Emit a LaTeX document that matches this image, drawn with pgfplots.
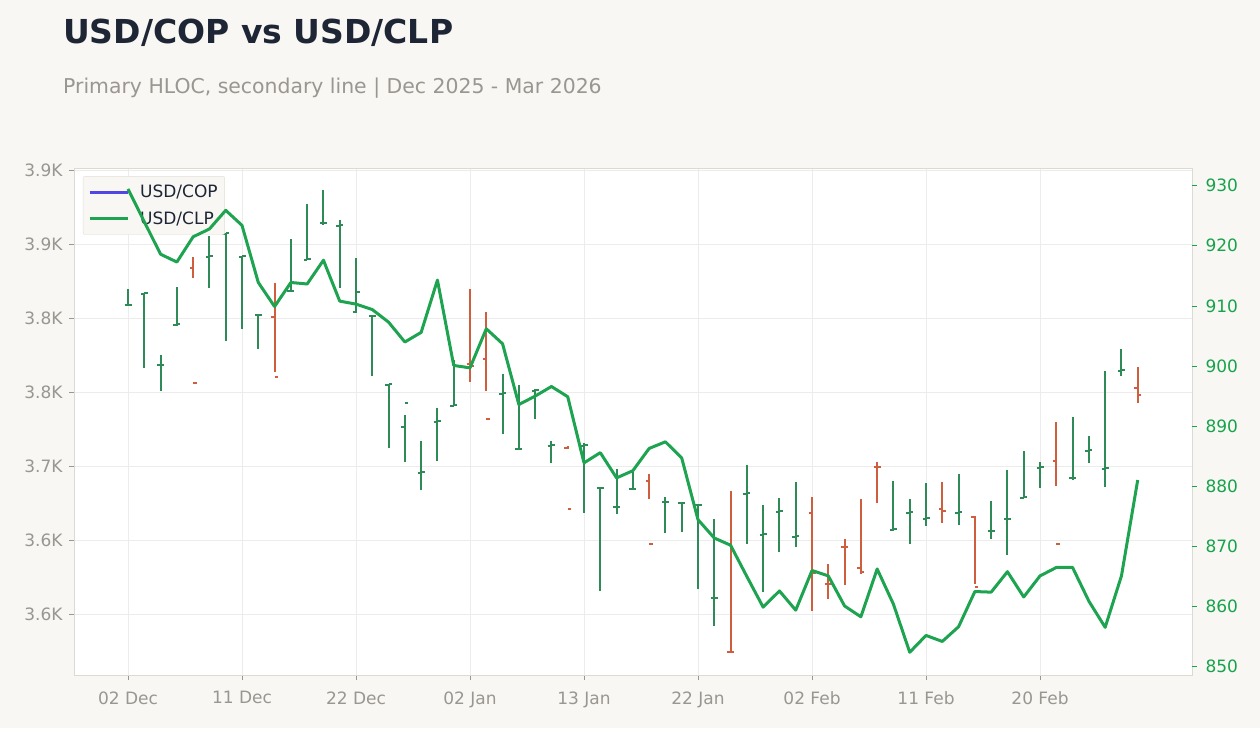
\documentclass[border=0pt]{standalone}
\usepackage{pgfplots}
\pgfplotsset{compat=1.18}
\usepackage{pgfplotstable}
\usepackage{fontspec}
\setmainfont{DejaVu Sans}

\definecolor{bgcol}{RGB}{248,247,244}
\definecolor{bordercol}{RGB}{221,217,211}
\definecolor{gridcol}{RGB}{236,236,236}
\definecolor{labelcol}{RGB}{154,150,144}
\definecolor{titlecol}{RGB}{30,38,53}
\definecolor{axgreen}{RGB}{22,163,74}
\definecolor{lineG}{RGB}{30,163,80}
\definecolor{barG}{RGB}{46,139,87}
\definecolor{barR}{RGB}{206,94,62}
\definecolor{legblue}{RGB}{79,70,229}
\definecolor{legbg}{RGB}{248,247,244}
\definecolor{legborder}{RGB}{226,222,216}

\pgfdeclareplotmark{openL}{\pgfpathmoveto{\pgfqpoint{-3.5pt}{0pt}}\pgfpathlineto{\pgfqpoint{0pt}{0pt}}\pgfusepathqstroke}
\pgfdeclareplotmark{closeR}{\pgfpathmoveto{\pgfqpoint{0pt}{0pt}}\pgfpathlineto{\pgfqpoint{3.5pt}{0pt}}\pgfusepathqstroke}

% USD/COP HLOC, rising bars
\pgfplotstableread{
x H L O C
0 3819.6 3809.0 3809.0 3809.3
1 3816.9 3766.6 3816.4 3816.8
2 3775.0 3751.1 3768.2 3768.6
3 3820.9 3795.0 3795.5 3795.9
5 3855.8 3820.7 3841.4 3841.8
6 3857.4 3784.9 3857.0 3857.3
7 3842.1 3793.0 3841.4 3841.8
8 3802.7 3779.5 3802.2 3802.5
10 3853.6 3818.0 3818.2 3818.6
11 3877.2 3839.4 3839.5 3839.8
12 3886.7 3863.0 3864.2 3864.6
13 3866.4 3820.7 3862.4 3862.8
14 3840.7 3803.8 3804.1 3818.0
15 3801.8 3761.2 3801.5 3801.8
16 3755.4 3712.2 3755.0 3755.3
17 3734.7 3703.1 3726.8 3743.0
18 3717.1 3683.8 3695.7 3696.1
19 3739.2 3703.8 3729.9 3730.3
20 3771.8 3740.7 3740.8 3741.1
23 3762.2 3722.0 3748.9 3749.3
24 3754.7 3711.7 3711.7 3712.0
25 3752.2 3732.2 3750.9 3751.3
26 3716.9 3702.4 3713.7 3714.1
28 3715.9 3668.6 3713.7 3714.1
29 3685.5 3615.9 3685.1 3685.4
30 3698.0 3668.0 3672.3 3672.7
31 3696.8 3684.2 3684.5 3684.9
33 3679.3 3655.1 3675.7 3676.1
34 3675.7 3655.8 3675.2 3675.5
35 3674.1 3616.9 3673.9 3674.1
36 3664.2 3592.1 3610.8 3611.2
38 3700.9 3647.7 3681.3 3681.7
39 3673.9 3615.3 3653.6 3654.0
40 3678.6 3642.3 3669.1 3669.5
41 3689.2 3645.7 3652.2 3652.6
47 3690.1 3656.5 3657.1 3657.5
48 3677.9 3647.7 3668.4 3668.8
49 3688.7 3659.7 3664.4 3664.8
51 3694.8 3660.3 3668.4 3668.8
53 3676.6 3650.9 3656.1 3656.5
54 3697.5 3640.1 3664.2 3664.6
55 3710.3 3678.4 3678.6 3679.0
56 3702.7 3685.5 3698.9 3699.3
58 3733.1 3690.9 3691.9 3692.3
59 3720.3 3702.4 3710.3 3710.7
60 3764.2 3686.2 3698.2 3698.6
61 3779.3 3761.2 3764.4 3764.8
}\upbars

% USD/COP HLOC, falling bars
\pgfplotstableread{
x H L O C
4 3841.4 3827.2 3834.2 3756.3
9 3823.9 3763.9 3801.1 3760.5
21 3819.8 3757.2 3769.1 3767.8
22 3804.1 3751.1 3772.7 3732.2
27 3713.4 3711.7 3712.7 3671.4
32 3694.8 3678.1 3690.3 3647.7
37 3683.3 3574.3 3574.8 3574.3
42 3679.3 3602.4 3668.6 3628.1
43 3634.0 3610.3 3620.7 3620.3
44 3650.9 3619.8 3645.7 3645.3
45 3677.9 3627.4 3631.1 3628.4
46 3702.7 3675.4 3699.7 3699.3
50 3689.4 3661.7 3671.1 3669.8
52 3666.4 3620.5 3665.5 3618.6
57 3729.9 3686.9 3703.6 3647.7
62 3767.1 3743.0 3753.1 3748.2
}\downbars

% USD/CLP close
\pgfplotstableread{
x y
0 929.45
1 924.0
2 918.6
3 917.3
4 921.5
5 922.8
6 925.9
7 923.4
8 913.9
9 909.9
10 913.9
11 913.65
12 917.6
13 910.8
14 910.3
15 909.4
16 907.3
17 904.0
18 905.6
19 914.3
20 900.1
21 899.7
22 906.2
23 903.7
24 893.6
25 895.0
26 896.6
27 894.9
28 883.9
29 885.6
30 881.4
31 882.6
32 886.3
33 887.4
34 884.7
35 874.45
36 871.4
37 870.2
38 865.0
39 859.9
40 862.6
41 859.4
42 866.0
43 865.1
44 860.1
45 858.3
46 866.25
47 860.4
48 852.4
49 855.2
50 854.2
51 856.65
52 862.5
53 862.4
54 865.8
55 861.6
56 865.1
57 866.5
58 866.5
59 860.9
60 856.55
61 865.1
62 881.05
}\clp

\begin{document}
\begin{tikzpicture}[x=1pt,y=1pt]
\useasboundingbox (0,0) rectangle (1260,728);
\fill[bgcol] (0,0) rectangle (1260,728);
\node[anchor=base west, inner sep=0pt, font=\bfseries\fontsize{33}{38}\selectfont, text=titlecol] at (63,684) {USD/COP vs USD/CLP};
\node[anchor=base west, inner sep=0pt, font=\fontsize{20.4}{24}\selectfont, text=labelcol] at (63,634) {Primary HLOC, secondary line | Dec 2025 - Mar 2026};

\begin{axis}[
  at={(74pt,53pt)}, anchor=south west,
  width=1118pt, height=507pt, scale only axis,
  xmin=-3.316, xmax=65.33,
  ymin=3559.0, ymax=3901.55,
  axis background/.style={fill=white},
  axis line style={draw=bordercol, line width=0.8pt},
  xtick={0,7,14,21,28,35,42,49,56},
  xticklabels={02 Dec,11 Dec,22 Dec,02 Jan,13 Jan,22 Jan,02 Feb,11 Feb,20 Feb},
  ytick={3600,3650,3700,3750,3800,3850,3900},
  yticklabels={3.6K,3.6K,3.7K,3.8K,3.8K,3.9K,3.9K},
  xtick pos=left, ytick pos=left,
  tick align=outside, major tick length=5pt,
  tick style={draw=labelcol, line width=0.8pt},
  tick label style={font=\fontsize{17}{20}\selectfont, text=labelcol},
  xticklabel style={yshift=-8pt},
  yticklabel style={xshift=-3pt},
  grid=major, major grid style={draw=gridcol, line width=0.8pt},
  legend style={at={(0.008,0.984)}, anchor=north west, fill=legbg, draw=legborder,
    rounded corners=2pt, font=\fontsize{17}{20}\selectfont, text=titlecol,
    inner xsep=5pt, inner ysep=7pt, row sep=8pt, column sep=9pt},
  legend cell align=left,
  legend image code/.code={\draw[#1] (0pt,0pt) -- (38pt,0pt);},
]
\addlegendimage{color=legblue, line width=3pt}
\addlegendentry{USD/COP}
\addlegendimage{color=lineG, line width=3pt}
\addlegendentry{USD/CLP}

\addplot[draw=none, mark=none, forget plot,
  error bars/.cd, y dir=plus, y explicit, error mark=none,
  error bar style={line width=2pt, draw=barG}]
  table[x=x, y=L, y error plus expr=\thisrow{H}-\thisrow{L}] {\upbars};
\addplot[barG, only marks, mark=openL, mark options={line width=2pt}, forget plot] table[x=x, y=O] {\upbars};
\addplot[barG, only marks, mark=closeR, mark options={line width=2pt}, forget plot] table[x=x, y=C] {\upbars};

\addplot[draw=none, mark=none, forget plot,
  error bars/.cd, y dir=plus, y explicit, error mark=none,
  error bar style={line width=2pt, draw=barR}]
  table[x=x, y=L, y error plus expr=\thisrow{H}-\thisrow{L}] {\downbars};
\addplot[barR, only marks, mark=openL, mark options={line width=2pt}, forget plot] table[x=x, y=O] {\downbars};
\addplot[barR, only marks, mark=closeR, mark options={line width=2pt}, forget plot] table[x=x, y=C] {\downbars};
\end{axis}

\begin{axis}[
  at={(74pt,53pt)}, anchor=south west,
  width=1118pt, height=507pt, scale only axis,
  xmin=-3.316, xmax=65.33,
  ymin=848.62, ymax=932.94,
  axis x line=none, axis y line*=right,
  axis line style={draw=none},
  ytick={850,860,870,880,890,900,910,920,930},
  yticklabels={850,860,870,880,890,900,910,920,930},
  tick align=outside, major tick length=5pt,
  tick style={draw=axgreen, line width=0.8pt},
  tick label style={font=\fontsize{17}{20}\selectfont, text=axgreen},
  yticklabel style={xshift=5pt},
]
\addplot[lineG, line width=3pt, line join=round, mark=none] table[x=x, y=y] {\clp};
\end{axis}
\end{tikzpicture}
\end{document}
